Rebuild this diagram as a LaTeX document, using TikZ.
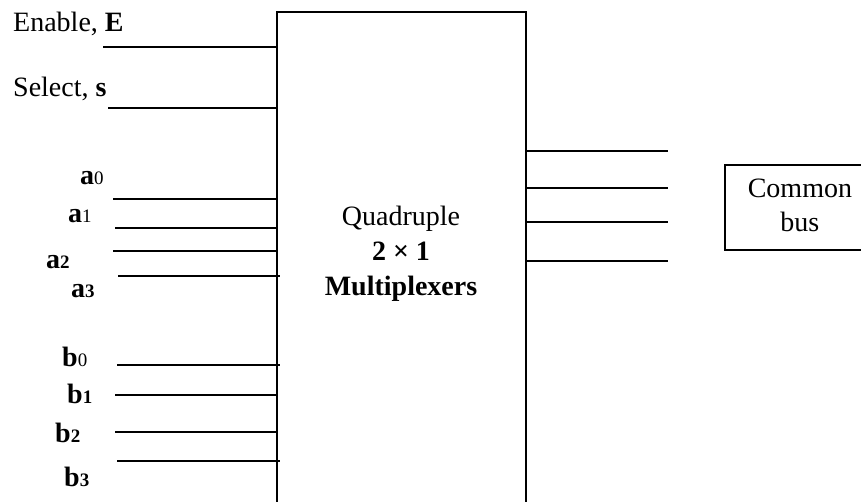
\documentclass[tikz,border=0pt]{standalone}
\usepackage{fontspec}
\setmainfont{Liberation Serif}
% input name: bold letter followed by a smaller index digit
\newcommand\muxin[2]{\textbf{#1}{\fontsize{19}{19}\selectfont #2}}
\newcommand\muxinb[2]{\textbf{#1}{\fontsize{19}{19}\selectfont\bfseries #2}}
\begin{document}
\begin{tikzpicture}[x=1pt,y=-1pt,
  txt/.style={inner sep=0pt, font=\fontsize{28}{34}\selectfont},
  lbl/.style={txt, anchor=base west},
  wire/.style={line width=1.6pt},
  frame/.style={draw, line width=1.8pt}]
\useasboundingbox (0,0) rectangle (861,502);
\clip (0,0) rectangle (861,502);

% multiplexer block (runs past the lower edge)
\node[frame, inner sep=0pt, minimum width=249pt, minimum height=530pt, anchor=north west] (mux) at (276,11) {};
\node[txt, align=center, font=\fontsize{28}{35}\selectfont] (muxlabel) at (401,253)
  {\strut Quadruple\\\strut\textbf{2 × 1}\\\strut\textbf{Multiplexers}};

% common bus block (runs past the right edge)
\node[frame, txt, align=center, minimum width=150pt, minimum height=85pt, anchor=north west] (bus) at (724,164)
  {\strut Common\\\strut bus};

% control inputs
\node[lbl] (lE) at (13,32) {Enable, \textbf{E}};
\node[lbl] (ls) at (13,97) {Select, \textbf{s}};
\coordinate (wE) at (103,47);
\coordinate (ws) at (108,108);
\draw[wire] (wE) -- (wE -| mux.west);
\draw[wire] (ws) -- (ws -| mux.west);

% data inputs a
\node[lbl] (la0) at (80,185) {\muxin{a}{0}};
\node[lbl] (la1) at (68,223) {\muxin{a}{1}};
\node[lbl] (la2) at (46,269) {\muxinb{a}{2}};
\node[lbl] (la3) at (71,298) {\muxinb{a}{3}};
\coordinate (wa0) at (113,199);
\coordinate (wa1) at (115,228);
\coordinate (wa2) at (113,251);
\coordinate (wa3) at (118,276);
\draw[wire] (wa0) -- (wa0 -| mux.west);
\draw[wire, shorten >=-2pt] (wa1) -- (wa1 -| mux.west);
\draw[wire] (wa2) -- (wa2 -| mux.west);
\draw[wire, shorten >=-4pt] (wa3) -- (wa3 -| mux.west);

% data inputs b
\node[lbl] (lb0) at (62,366) {\muxin{b}{0}};
\node[lbl] (lb1) at (67,403) {\muxinb{b}{1}};
\node[lbl] (lb2) at (55,442) {\muxinb{b}{2}};
\node[lbl] (lb3) at (64,486) {\muxinb{b}{3}};
\coordinate (wb0) at (117,365);
\coordinate (wb1) at (115,395);
\coordinate (wb2) at (115,432);
\coordinate (wb3) at (117,461);
\draw[wire, shorten >=-4pt] (wb0) -- (wb0 -| mux.west);
\draw[wire, shorten >=-2pt] (wb1) -- (wb1 -| mux.west);
\draw[wire, shorten >=-2pt] (wb2) -- (wb2 -| mux.west);
\draw[wire, shorten >=-4pt] (wb3) -- (wb3 -| mux.west);

% outputs toward the bus
\coordinate (o0) at (668,151);
\coordinate (o1) at (668,188);
\coordinate (o2) at (668,222);
\coordinate (o3) at (668,261);
\foreach \o in {o0,o1,o2,o3}
  \draw[wire] (\o -| mux.east) -- (\o);
\end{tikzpicture}
\end{document}
